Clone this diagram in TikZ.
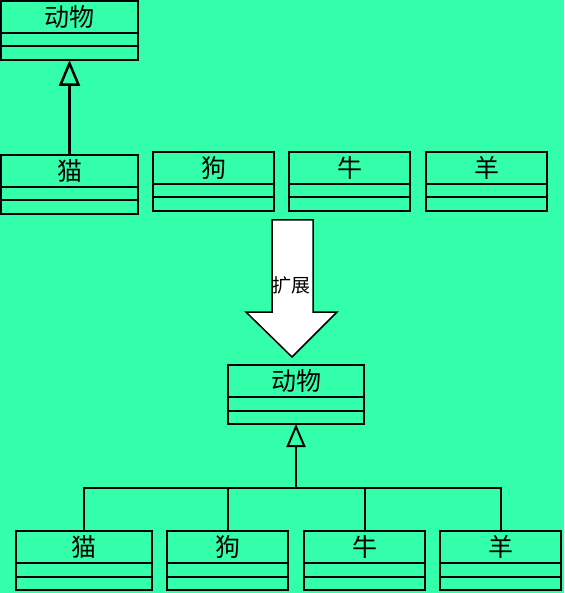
\documentclass[tikz,border=0pt]{standalone}
\usepackage{fontspec}
\newfontfamily\cjk{Noto Sans CJK SC}
\usetikzlibrary{arrows.meta,positioning}
\definecolor{bggreen}{RGB}{51,255,170}
\tikzset{
  clsname/.style={draw, rectangle, line width=2pt, outer sep=0pt, inner sep=0pt,
    minimum height=32pt, anchor=north west, font=\cjk\fontsize{25}{25}\selectfont},
  clsslot/.style={draw, rectangle, line width=2pt, outer sep=0pt, inner sep=0pt,
    minimum height=13.5pt},
  inherit/.style={line width=2pt, -{Triangle[open, length=24pt, width=20pt]}}
}

\begin{document}
\begin{tikzpicture}[x=1pt, y=-1pt]
  \fill[bggreen] (0,0) rectangle (564,593);
  \useasboundingbox (0,0) rectangle (564,593);
  % Class boxes: name/label/left/top/width
  \foreach \n/\t/\x/\y/\w in {a/动物/1/1/137, c/猫/1/155/137, d/狗/153/152/121,
      o/牛/289/152/121, s/羊/426/152/121, A/动物/228/365/136, C/猫/16/531/136,
      D/狗/167/531/121, O/牛/304/531/121, S/羊/440/531/121}{
    \node[clsname, minimum width=\w pt] (\n) at (\x,\y) {\t};
    \node[clsslot, minimum width=\w pt, below=0pt of \n] (\n1) {};
    \node[clsslot, minimum width=\w pt, below=0pt of \n1] (\n2) {};
  }
  % Before: only the cat inherits
  \draw[inherit, line width=2.5pt, -{Triangle[open, length=26pt, width=21pt]}] (c.north) -- (a2.south);
  % Big arrow
  \draw[line width=1.5pt, fill=white] (272,220) -- (313,220) -- (313,312) -- (337,312)
    -- (292,357) -- (246,312) -- (272,312) -- cycle;
  \node[font=\cjk\fontsize{19}{19}\selectfont, inner sep=0pt] (ext) at (291,285) {扩展};
  % After: all four inherit
  \coordinate (join) at (A2.south |- 0,488);
  \foreach \k in {C,D,O,S}{
    \draw[line width=2pt] (\k.north) |- (join);
  }
  \draw[inherit, -{Triangle[open, length=23pt, width=19pt]}] (join) -- (A2.south);
\end{tikzpicture}
\end{document}
